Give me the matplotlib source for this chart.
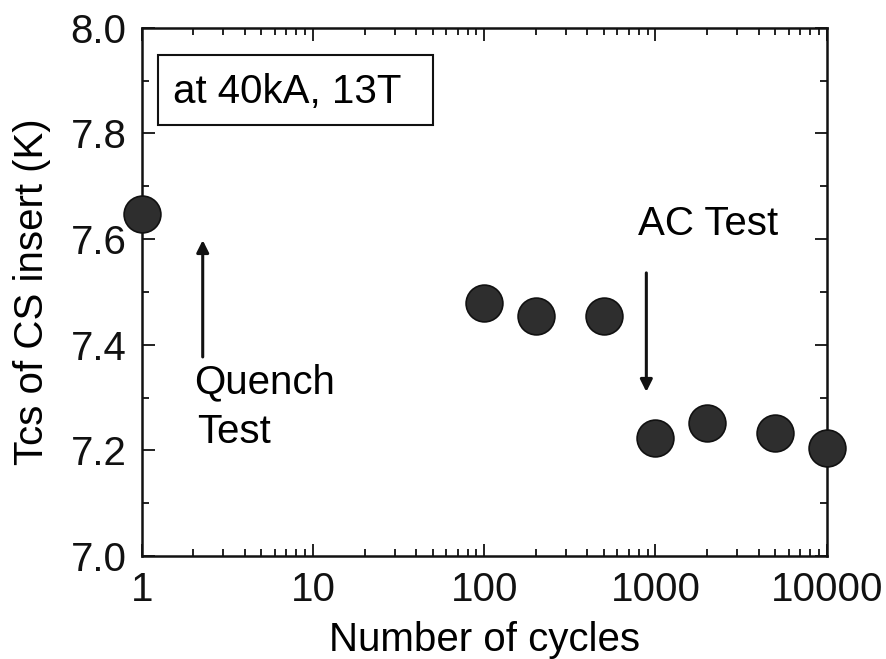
import matplotlib.pyplot as plt
from matplotlib.patches import Rectangle

plt.rcParams['font.family'] = ['Liberation Sans', 'DejaVu Sans']

# Tcs of the CS insert versus number of cycles
cycles = [1, 100, 200, 500, 1000, 2000, 5000, 10000]
tcs = [7.648, 7.48, 7.455, 7.455, 7.224, 7.252, 7.234, 7.205]

x_ticks = [1, 10, 100, 1000, 10000]
x_ticklabels = ['1', '10', '100', '1000', '10000']
y_ticks = [7.0, 7.2, 7.4, 7.6, 7.8, 8.0]

fs = 29
ink = '#111111'

fig = plt.figure(figsize=(8.86, 6.59), dpi=100)
ax = fig.add_axes([0.160, 0.156, 0.773, 0.802])

ax.plot(cycles, tcs, 'o', ms=26.5, mfc='#2e2e2e', mec=ink, mew=1.2,
        clip_on=False, zorder=5)

ax.set_xscale('log')
ax.set_xlim(1, 10000)
ax.set_ylim(7.0, 8.0)

ax.set_xticks(x_ticks)
ax.set_xticklabels(x_ticklabels)
ax.set_yticks(y_ticks)
ax.set_yticklabels(['%.1f' % v for v in y_ticks])
ax.yaxis.set_minor_locator(plt.MultipleLocator(0.1))

ax.tick_params(which='both', direction='in', top=True, right=True,
               labelsize=fs, width=1.3, colors=ink)
ax.tick_params(which='major', length=9, pad=11)
ax.tick_params(which='minor', length=5)
for s in ax.spines.values():
    s.set_linewidth(1.8)
    s.set_color(ink)

ax.set_xlabel('Number of cycles', fontsize=fs, labelpad=8)
ax.set_ylabel('Tcs of CS insert (K)', fontsize=fs, labelpad=14)

# condition label in a framed box
ax.add_patch(Rectangle((0.023, 0.816), 0.402, 0.133, transform=ax.transAxes,
                       fc='white', ec=ink, lw=1.5, zorder=4))
ax.text(0.045, 0.858, 'at 40kA, 13T', transform=ax.transAxes, fontsize=fs,
        va='baseline', ha='left', zorder=6)

# quench test arrow
ax.annotate('', xy=(2.27, 7.598), xytext=(2.27, 7.377),
            arrowprops=dict(arrowstyle='-|>', color=ink, lw=2.2,
                            mutation_scale=18, shrinkA=0, shrinkB=0))
ax.text(2.01, 7.309, 'Quench', fontsize=fs, ha='left', va='baseline')
ax.text(2.10, 7.214, 'Test', fontsize=fs, ha='left', va='baseline')

# AC test arrow
ax.annotate('', xy=(885, 7.311), xytext=(885, 7.536),
            arrowprops=dict(arrowstyle='-|>', color=ink, lw=2.2,
                            mutation_scale=18, shrinkA=0, shrinkB=0))
ax.text(796, 7.608, 'AC Test', fontsize=fs, ha='left', va='baseline')

fig.savefig('out.png', dpi=100)
